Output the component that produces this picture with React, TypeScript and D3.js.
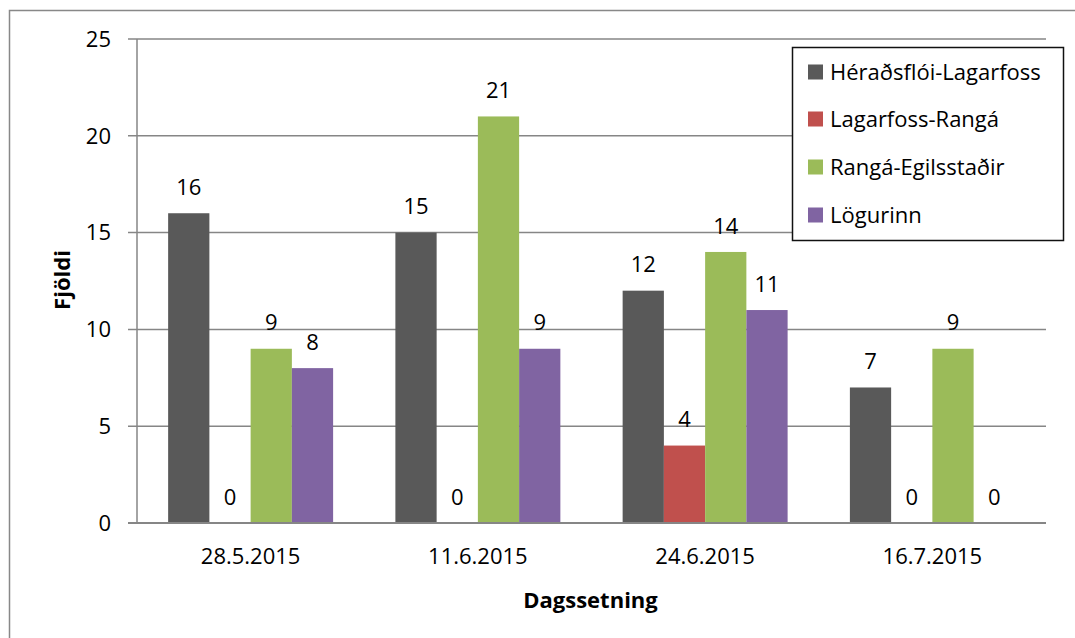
import React, { useEffect, useRef } from "react";
import * as d3 from "d3";

// chart values
const dates = ["28.5.2015", "11.6.2015", "24.6.2015", "16.7.2015"];
const seriesNames = ["Héraðsflói-Lagarfoss", "Lagarfoss-Rangá", "Rangá-Egilsstaðir", "Lögurinn"];
const heradsfloi = [16, 15, 12, 7];
const lagarfoss = [0, 0, 4, 0];
const ranga = [9, 21, 14, 9];
const logurinn = [8, 9, 11, 0];
const yTicks = [0, 5, 10, 15, 20, 25];
const colors = ["#595959", "#C0504D", "#9BBB59", "#8064A2"];

const App = () => {
  const svgRef = useRef<SVGSVGElement>(null);

  useEffect(() => {
    const svg = d3.select(svgRef.current);
    svg.selectAll("*").remove();
    const font = "'Open Sans', sans-serif";
    const fs = 22;
    const values = [heradsfloi, lagarfoss, ranga, logurinn];

    // outer frame (cut off at the right and bottom)
    svg.append("rect")
      .attr("x", 9.5).attr("y", 10.5)
      .attr("width", 1100).attr("height", 700)
      .attr("fill", "white").attr("stroke", "#888").attr("stroke-width", 1.5);

    const left = 137, right = 1046, top = 39, bottom = 523;

    const x0 = d3.scaleBand().domain(dates).range([left, right]).padding(0);
    const x1 = d3.scaleBand<number>()
      .domain([0, 1, 2, 3])
      .range([0, x0.bandwidth()])
      .paddingInner(0)
      .paddingOuter(0.755);
    const y = d3.scaleLinear().domain([0, 25]).range([bottom, top]);

    // gridlines + ticks
    const g = svg.append("g").attr("font-family", font);
    g.selectAll("line.grid")
      .data(yTicks)
      .enter()
      .append("line")
      .attr("x1", left - 9).attr("x2", right)
      .attr("y1", (d) => y(d)).attr("y2", (d) => y(d))
      .attr("stroke", "#868686").attr("stroke-width", 1.5);

    g.selectAll("text.ytick")
      .data(yTicks)
      .enter()
      .append("text")
      .attr("x", left - 26)
      .attr("y", (d) => y(d))
      .attr("dy", "0.35em")
      .attr("text-anchor", "end")
      .attr("font-size", fs)
      .text((d) => d);

    // bars
    values.forEach((vals, si) => {
      const grp = g.append("g");
      grp.selectAll("rect")
        .data(vals)
        .enter()
        .append("rect")
        .attr("x", (d, i) => x0(dates[i])! + x1(si)!)
        .attr("width", x1.bandwidth())
        .attr("y", (d) => y(d))
        .attr("height", (d) => bottom - y(d))
        .attr("fill", colors[si]);
      grp.selectAll("text")
        .data(vals)
        .enter()
        .append("text")
        .attr("x", (d, i) => x0(dates[i])! + x1(si)! + x1.bandwidth() / 2)
        .attr("y", (d) => y(d) - 26)
        .attr("dy", "0.35em")
        .attr("text-anchor", "middle")
        .attr("font-size", fs)
        .text((d) => d);
    });

    // axis lines
    g.append("line")
      .attr("x1", left).attr("x2", left).attr("y1", top).attr("y2", bottom)
      .attr("stroke", "#868686").attr("stroke-width", 1.5);
    g.append("line")
      .attr("x1", left - 9).attr("x2", right).attr("y1", bottom).attr("y2", bottom)
      .attr("stroke", "#868686").attr("stroke-width", 2);

    // category labels
    g.selectAll("text.xtick")
      .data(dates)
      .enter()
      .append("text")
      .attr("x", (d) => x0(d)! + x0.bandwidth() / 2)
      .attr("y", 556)
      .attr("dy", "0.35em")
      .attr("text-anchor", "middle")
      .attr("font-size", fs)
      .text((d) => d);

    // axis titles
    g.append("text")
      .attr("x", (left + right) / 2 - 1)
      .attr("y", 600)
      .attr("dy", "0.35em")
      .attr("text-anchor", "middle")
      .attr("font-size", fs)
      .attr("font-weight", "bold")
      .text("Dagssetning");
    g.append("text")
      .attr("transform", "translate(62,280) rotate(-90)")
      .attr("dy", "0.35em")
      .attr("text-anchor", "middle")
      .attr("font-size", fs)
      .attr("font-weight", "bold")
      .text("Fjöldi");

    // legend
    const lg = g.append("g");
    lg.append("rect")
      .attr("x", 792.5).attr("y", 47.5)
      .attr("width", 271).attr("height", 193)
      .attr("fill", "white").attr("stroke", "#111").attr("stroke-width", 1.5);
    const rowY = [72, 119, 167, 215];
    seriesNames.forEach((name, i) => {
      lg.append("rect")
        .attr("x", 808).attr("y", rowY[i] - 7.5)
        .attr("width", 15).attr("height", 15)
        .attr("fill", colors[i]);
      lg.append("text")
        .attr("x", 830).attr("y", rowY[i])
        .attr("dy", "0.35em")
        .attr("font-size", fs)
        .text(name);
    });
  }, []);

  return (
    <div style={{ position: "absolute", left: 0, top: 0 }}>
      <svg ref={svgRef} width={1075} height={638} style={{ display: "block" }}></svg>
    </div>
  );
};

export default App;
